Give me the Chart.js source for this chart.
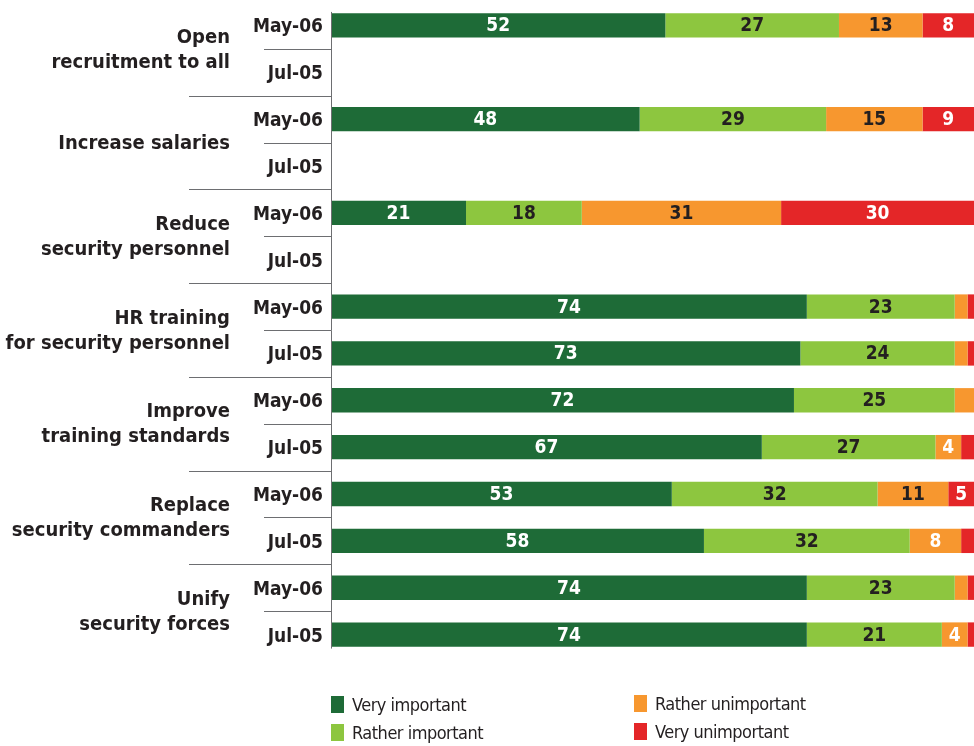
<!DOCTYPE html>
<html>
<head>
<meta charset="utf-8">
<script src="https://cdn.jsdelivr.net/npm/chart.js@4.4.0/dist/chart.umd.min.js"></script>
<style>
  html, body { margin: 0; padding: 0; background: #fff; }
  #wrap { position: relative; width: 974px; height: 746px; }
  #legend { position: absolute; left: 0; top: 0; width: 974px; height: 746px; pointer-events: none;
            font-family: "DejaVu Sans Condensed", "DejaVu Sans", sans-serif; font-size: 18px; color: #231f20;
            letter-spacing: -0.5px; }
  .lg { position: absolute; display: flex; align-items: center; white-space: nowrap; }
  .lg span.box { display: inline-block; width: 13px; height: 17px; margin-right: 8px; }
</style>
</head>
<body>
<div id="wrap">
  <canvas id="c" width="974" height="746"></canvas>
  <div id="legend"></div>
</div>
<script>
// ---- data ----
const groups = ["Open\nrecruitment to all", "Increase salaries", "Reduce\nsecurity personnel",
                "HR training\nfor security personnel", "Improve\ntraining standards",
                "Replace\nsecurity commanders", "Unify\nsecurity forces"];
const categories = ["May-06","Jul-05","May-06","Jul-05","May-06","Jul-05","May-06","Jul-05",
                    "May-06","Jul-05","May-06","Jul-05","May-06","Jul-05"];
const seriesNames = ["Very important", "Rather important", "Rather unimportant", "Very unimportant"];
const veryImportant     = [52, null, 48, null, 21, null, 74, 73, 72, 67, 53, 58, 74, 74];
const ratherImportant   = [27, null, 29, null, 18, null, 23, 24, 25, 27, 32, 32, 23, 21];
const ratherUnimportant = [13, null, 15, null, 31, null,  2,  2,  3,  4, 11,  8,  2,  4];
const veryUnimportant   = [ 8, null,  9, null, 30, null,  1,  1,  0,  2,  5,  2,  1,  1];

const colors = ["#1e6b37", "#8dc63f", "#f7972f", "#e42628"];
const darkText = "#231f20";
const FONT = '"DejaVu Sans Condensed", "DejaVu Sans", sans-serif';

// bar value labels
const valueLabels = {
  id: 'valueLabels',
  afterDatasetsDraw(chart) {
    const ctx = chart.ctx;
    ctx.save();
    ctx.font = 'bold 19px ' + FONT;
    ctx.textAlign = 'center';
    ctx.textBaseline = 'middle';
    chart.data.datasets.forEach((ds, di) => {
      const meta = chart.getDatasetMeta(di);
      meta.data.forEach((bar, i) => {
        const v = ds.data[i];
        if (v == null || v < 4) return;
        let col = '#ffffff';
        if (di === 1) col = darkText;
        if (di === 2 && v >= 10) col = darkText;
        ctx.fillStyle = col;
        const x1 = Math.min(bar.x, chart.chartArea.right);
        const cx = (bar.base + x1) / 2;
        ctx.fillText(String(v), cx, bar.y + 1);
      });
    });
    ctx.restore();
  }
};

// category labels, group labels, separators and axis line
const groupAxis = {
  id: 'groupAxis',
  afterDraw(chart) {
    const ctx = chart.ctx;
    const ys = chart.scales.y;
    const left = chart.chartArea.left;
    const n = categories.length;
    const step = ys.getPixelForValue(1) - ys.getPixelForValue(0);
    ctx.save();
    // vertical axis line
    ctx.strokeStyle = '#6d6e71';
    ctx.lineWidth = 1;
    ctx.beginPath();
    ctx.moveTo(left + 0.5, ys.getPixelForValue(0) - 13.5);
    ctx.lineTo(left + 0.5, ys.getPixelForValue(n - 1) + 14);
    ctx.stroke();
    // separators
    for (let g = 0; g < groups.length; g++) {
      const yMid = Math.round(ys.getPixelForValue(g * 2) + step / 2) + 0.5;
      ctx.beginPath();
      ctx.moveTo(264, yMid);
      ctx.lineTo(left, yMid);
      ctx.stroke();
      if (g < groups.length - 1) {
        const yEnd = Math.round(ys.getPixelForValue(g * 2 + 1) + step / 2) + 0.5;
        ctx.beginPath();
        ctx.moveTo(189, yEnd);
        ctx.lineTo(left, yEnd);
        ctx.stroke();
      }
    }
    ctx.fillStyle = darkText;
    ctx.textAlign = 'right';
    ctx.textBaseline = 'middle';
    // period labels
    ctx.font = 'bold 19px ' + FONT;
    categories.forEach((c, i) => {
      ctx.fillText(c, left - 8, ys.getPixelForValue(i) + 2);
    });
    // group labels
    ctx.font = 'bold 20px ' + FONT;
    groups.forEach((label, g) => {
      const lines = label.split('\n');
      const yc = ys.getPixelForValue(g * 2) + step / 2 + 1;
      const lh = 25;
      lines.forEach((ln, k) => {
        ctx.fillText(ln, 230, yc + (k - (lines.length - 1) / 2) * lh);
      });
    });
    ctx.restore();
  }
};

const datasets = [veryImportant, ratherImportant, ratherUnimportant, veryUnimportant].map((arr, i) => ({
  label: seriesNames[i],
  data: arr,
  backgroundColor: colors[i],
  borderWidth: 0,
  categoryPercentage: 1.0,
  barPercentage: 0.52
}));

new Chart(document.getElementById('c'), {
  type: 'bar',
  data: { labels: categories, datasets },
  options: {
    indexAxis: 'y',
    responsive: false,
    animation: false,
    layout: { padding: { top: 2, bottom: 88, left: 0, right: 0 } },
    plugins: { legend: { display: false }, tooltip: { enabled: false } },
    scales: {
      x: { stacked: true, min: 0, max: 100, display: false },
      y: {
        stacked: true,
        grid: { display: false, drawTicks: false },
        border: { display: false },
        ticks: { display: false },
        afterFit(s) { s.width = 331; }
      }
    }
  },
  plugins: [valueLabels, groupAxis]
});

// HTML legend built from the series
const legendPos = [
  { left: 331, top: 694 }, { left: 331, top: 722 },
  { left: 634, top: 693 }, { left: 634, top: 721 }
];
const lg = document.getElementById('legend');
seriesNames.forEach((name, i) => {
  const d = document.createElement('div');
  d.className = 'lg';
  d.style.left = legendPos[i].left + 'px';
  d.style.top = legendPos[i].top + 'px';
  d.innerHTML = '<span class="box" style="background:' + colors[i] + '"></span><span>' + name + '</span>';
  lg.appendChild(d);
});
</script>
</body>
</html>
